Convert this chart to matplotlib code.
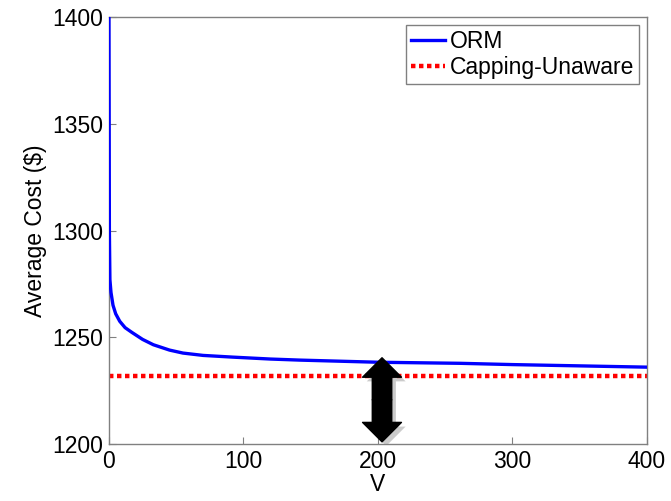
import matplotlib
matplotlib.use("Agg")
import matplotlib.pyplot as plt
import matplotlib.patheffects as pe
from matplotlib.patches import FancyArrowPatch

plt.rcParams.update({
    "font.family": ["Liberation Sans", "DejaVu Sans"],
    "font.size": 16.5,
})

# data
v_orm = [0, 0.3, 0.7, 1.5, 2, 3, 5, 8, 12, 17, 25, 33, 45, 55, 70, 92, 120, 142, 200, 261, 300, 350, 400]
cost_orm = [1400, 1300, 1277, 1271, 1269, 1265, 1261, 1257.5, 1254.5, 1252.3, 1249, 1246.5, 1244, 1242.6,
            1241.5, 1240.7, 1239.8, 1239.3, 1238.3, 1237.8, 1237.2, 1236.6, 1236]
v_cap = [0, 400]
cost_cap = [1232, 1232]

# double arrow (annotation)
arrow_v = 203
arrow_top = 1240.4
arrow_bottom = 1201

fig = plt.figure(figsize=(6.71, 5.01), dpi=100)
ax = fig.add_axes([0.1624, 0.1138, 0.8018, 0.852])

ax.plot(v_orm, cost_orm, color="#0000ff", lw=2.4, label="ORM", zorder=3)
ax.plot(v_cap, cost_cap, color="#ff0000", lw=3.2, dashes=(1, 0.8),
        dash_capstyle="butt", label="Capping-Unaware", zorder=2)

mid = (arrow_top + arrow_bottom) / 2
shadow = [pe.withSimplePatchShadow(offset=(3, -3), shadow_rgbFace="0.6", alpha=0.5)]
for end in (arrow_top, arrow_bottom):
    arr = FancyArrowPatch((arrow_v, mid), (arrow_v, end),
                          arrowstyle="simple,head_length=14,head_width=28,tail_width=14",
                          mutation_scale=1, shrinkA=0, shrinkB=0,
                          color="black", zorder=4, path_effects=shadow)
    ax.add_patch(arr)

ax.set_xlim(0, 400)
ax.set_ylim(1200, 1400)
ax.set_xticks([0, 100, 200, 300, 400])
ax.set_yticks([1200, 1250, 1300, 1350, 1400])
ax.tick_params(direction="in", length=5, color="0.5", pad=4, labelsize=16.5)
for s in ax.spines.values():
    s.set_color("0.5")
    s.set_linewidth(1)

ax.set_xlabel("V", fontsize=16.5, labelpad=0)
ax.set_ylabel("Average Cost ($)", fontsize=16.5, labelpad=4)

leg = ax.legend(loc="upper right", fontsize=16.5, handlelength=1.5, handletextpad=0.2,
                borderpad=0.2, labelspacing=0.15, fancybox=False, framealpha=1,
                borderaxespad=0.35)
leg.get_frame().set_edgecolor("0.5")
leg.get_frame().set_linewidth(1)

plt.savefig("out.png", dpi=100)
